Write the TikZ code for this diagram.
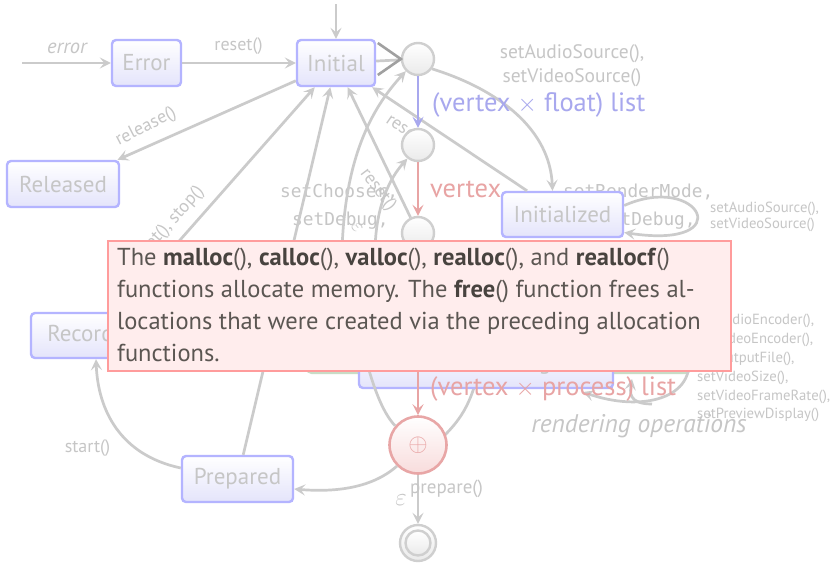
\documentclass[tikz,border=0pt]{standalone}
\usepackage{fontspec}
\setmainfont{PT Sans}
\setmonofont{DejaVu Sans Mono}
\usetikzlibrary{arrows.meta,calc}
\pgfdeclarelayer{back}
\pgfdeclarelayer{front}
\pgfsetlayers{back,main,front}

\definecolor{edgegray}{HTML}{CBCBCB}
\definecolor{chevron}{HTML}{A0A0A0}
\definecolor{boxline}{HTML}{B4B4FF}
\definecolor{boxfill}{HTML}{E4E4FB}
\definecolor{labelgray}{HTML}{C6C6C6}
\definecolor{circline}{HTML}{CFCFCF}
\definecolor{circfill}{HTML}{EAEAEA}
\definecolor{listblue}{HTML}{A8A8EE}
\definecolor{listred}{HTML}{E8A4A4}
\definecolor{sumline}{HTML}{E8A6A6}
\definecolor{sumfill}{HTML}{F8DCDC}
\definecolor{greenline}{HTML}{C9DCC6}
\definecolor{greenfill}{HTML}{EEF6EC}
\definecolor{noteline}{HTML}{FF9C9C}
\definecolor{notefill}{HTML}{FFEDED}
\definecolor{notetext}{HTML}{5B5652}
\definecolor{notebold}{HTML}{48433F}

\newcommand\fsz[1]{\fontsize{#1}{#1}\selectfont}
\newcommand\fn[1]{{\color{notebold}\textbf{#1}}()}

\begin{document}
\begin{tikzpicture}[
  x=1pt, y=-1pt,
  tip/.style={-{Stealth[length=11pt,width=11pt,inset=4.5pt]}},
  edge/.style={draw=edgegray, line width=2.7pt, tip},
  plainedge/.style={draw=edgegray, line width=2.7pt},
  state/.style={draw=boxline, line width=2.4pt, rounded corners=4pt,
    top color=white, bottom color=boxfill, text=labelgray,
    font=\fsz{23}, inner sep=0pt, minimum height=46pt},
  point/.style={circle, draw=circline, line width=2.4pt, top color=white,
    bottom color=circfill, minimum size=32pt, inner sep=0pt},
  lbl/.style={text=labelgray, font=\fsz{18}, inner sep=0pt},
  small/.style={text=labelgray, font=\fsz{14.7}, inner sep=0pt, anchor=base west},
  mono/.style={text=labelgray, font=\ttfamily\fsz{17.8}, inner sep=0pt, anchor=base west},
  bluelist/.style={text=listblue, font=\fsz{26.5}, inner sep=0pt, anchor=base west},
  redlist/.style={text=listred, font=\fsz{26.5}, inner sep=0pt, anchor=base west},
  notetxt/.style={text=notetext, font=\fsz{24.5}, inner sep=0pt, anchor=base west},
]
\useasboundingbox (0,0) rectangle (830,563);

% ---------- background layer: boxes and texts lying under everything ----------
\begin{pgfonlayer}{back}
  \fill[white] (0,0) rectangle (830,563);
  \draw[draw=greenline, line width=2.4pt, fill=greenfill, rounded corners=5pt]
    (307,290) rectangle (690,373);
  \node[mono] (mchoose) at (280,197) {setChooser,};
  \node[mono] (mdebugA) at (292,225) {setDebug,};
  \node[mono] (mrender) at (563,197) {setRenderMode,};
  \node[mono] (mdebugB) at (599,225) {setDebug,};
  \node[lbl, rotate=-34.5, anchor=base west] (lreset1) at (385,122) {reset()};
  \coordinate (sumtail) at (478,372);
\end{pgfonlayer}

% ---------- states ----------
\node[state, minimum width=69pt] (err) at (146.5,63) {Error};
\node[state, minimum width=78pt] (init) at (336,63) {Initial};
\node[state, minimum width=112pt] (rel) at (63,184) {Released};
\node[state, minimum width=121pt, minimum height=45pt] (initd) at (562.5,214.5) {Initialized};
\node[state, minimum width=130pt, minimum height=45pt] (rec) at (96,335.5) {Recording};
\node[state, minimum width=111pt] (prep) at (237.5,479) {Prepared};

\begin{pgfonlayer}{back}
  \draw[plainedge] (sumtail) .. controls (470,410) and (455,425) .. (440,440);
\end{pgfonlayer}
\node[state, minimum width=254pt, minimum height=48pt] (dsc) at (486,364) {DataSourceConfigured};

% ---------- small circles ----------
\node[point] (c1) at (418,59) {};
\node[point] (c2) at (418,145) {};
\node[point] (c3) at (418,233) {};
\node[circle, draw=sumline, line width=2.6pt, top color=white, bottom color=sumfill,
  minimum size=57pt, inner sep=0pt, text=listred, font=\fsz{26}] (sum) at (418,445) {$\oplus$};
\node[point, minimum size=36pt] (fin) at (418,543) {};
\draw[draw=circline, line width=2.4pt, top color=white, bottom color=circfill]
  (fin.center) circle[radius=12.5];

% ---------- free ends ----------
\coordinate (entry) at (336,4);
\coordinate (errsrc) at (22,63);
\coordinate (srcA) at (342,250);
\coordinate (srcB) at (375,250);
\coordinate (srcC) at (364,352);
\coordinate (loopA) at (688,352);
\coordinate (loopB) at (652,404);

% ---------- connectors ----------
\draw[edge] (entry) -- (init);
\draw[edge] (errsrc) -- (err);
\draw[edge] (err) -- (init);
\draw[plainedge] (init) -- (c1);
\draw[draw=chevron, line width=2.6pt] ($(c1.west)+(-23,-16)$) -- (c1.west) -- ($(c1.west)+(-23,16)$);
\draw[edge] (init) -- (rel);
\draw[edge] (rec) -- (init);
\draw[edge] (prep) -- (init);
\draw[edge] (c3) -- (init);
\draw[edge] (initd) -- (init);
\draw[edge] (srcA) .. controls (345,160) and (370,110) .. (c1.225);
\draw[edge] (srcB) .. controls (376,205) and (390,178) .. (c2.232);
\draw[edge] (c1.-35) .. controls (500,90) and (550,130) .. ([xshift=-10pt]initd.north);
\draw[edge] ([yshift=9pt]initd.east) .. controls (700,172) and (740,250) .. ([yshift=-18pt]initd.east);
\draw[draw=listblue, line width=2.7pt, tip] (c1) -- (c2);
\draw[draw=listred, line width=2.7pt, tip] (c2) -- (c3);
\draw[draw=listred, line width=2.7pt, tip] (c3) -- (sum);
\draw[plainedge] (srcC) .. controls (375,395) and (385,415) .. (sum.140);
\draw[edge] (sum) -- (fin);
\draw[edge] (sum.225) .. controls (370,490) and (330,492) .. ([yshift=-10pt]prep.east);
\draw[edge] ([yshift=11pt]prep.west) .. controls (120,455) and (98,410) .. (rec.south);
\draw[edge] (loopA) .. controls (698,400) and (640,412) .. (583,392);
\draw[edge] (loopB) .. controls (628,404) and (630,392) .. (632,379);

% ---------- labels ----------
\node[lbl, font=\itshape\fsz{20.5}, anchor=base] (lerror) at (67,53) {error};
\node[lbl, anchor=base] (lreset0) at (238.5,50) {reset()};
\node[lbl, rotate=27] (lrelease) at (146,127) {release()};
\node[lbl, rotate=48, anchor=east] (lstop) at (201,189) {reset(), stop()};
\node[lbl, rotate=-53] (lreset2) at (378,190) {reset()};
\node[lbl, rotate=-53, font=\fsz{20}] (leps1) at (357,228) {$\varepsilon$};
\node[lbl, font=\fsz{19.5}, anchor=base] (laudio1) at (572,58) {setAudioSource(),};
\node[lbl, font=\fsz{19.5}, anchor=base] (lvideo1) at (572,82) {setVideoSource()};
\node[small] (laudio2) at (710,212) {setAudioSource(),};
\node[small] (lvideo2) at (710,228) {setVideoSource()};
\node[bluelist] (lfloat) at (432,111) {(vertex $\times$ float) list};
\node[redlist] (lvertex) at (430,197) {vertex};
\node[redlist] (lprocess) at (430,395) {(vertex $\times$ process) list};
\node[lbl, font=\itshape\fsz{25.5}, anchor=base] (lrender) at (639,432) {rendering operations};
\foreach \t/\y [count=\i] in {setAudioEncoder()/324, setVideoEncoder()/343,
    setOutputFile()/362, setVideoSize()/381, setVideoFrameRate()/400} {
  \node[small] (rcol\i) at (697,\y) {\t,};
}
\node[small] (rcol6) at (697,418) {setPreviewDisplay()};
\node[lbl, anchor=base] (lstart) at (87.5,452) {start()};
\node[lbl, font=\fsz{19}, anchor=base west] (lprepare) at (410,493) {prepare()};
\node[lbl, font=\fsz{28}] (leps2) at (401,500) {$\varepsilon$};

% ---------- note on top ----------
\begin{pgfonlayer}{front}
  \node[draw=noteline, line width=2pt, fill=notefill, minimum width=623pt,
    minimum height=130pt, anchor=north west, inner sep=0pt] (note) at (107,240) {};
  \node[notetxt] (note1) at (117,265)
    {The \fn{malloc}, \fn{calloc}, \fn{valloc}, \fn{realloc}, and \fn{reallocf}};
  \node[notetxt] (note2) at (117,297)
    {functions allocate memory. The \fn{free} function frees al-};
  \node[notetxt] (note3) at (117,329)
    {locations that were created via the preceding allocation};
  \node[notetxt] (note4) at (117,361) {functions.};
\end{pgfonlayer}
\end{tikzpicture}
\end{document}
